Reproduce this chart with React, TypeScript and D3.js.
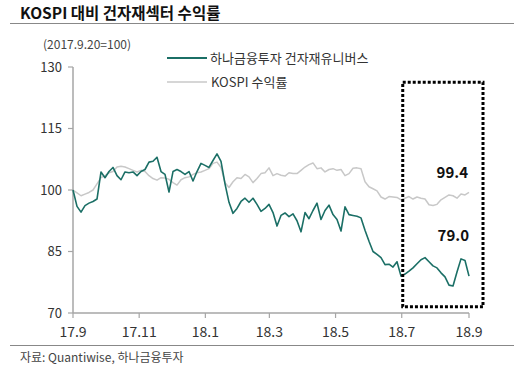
import React from "react";
import * as d3 from "d3";

// 하나금융투자 건자재유니버스, 2017.9.20=100
const universe = [
  100, 96, 94.6, 96.2, 96.8, 97.2, 97.8, 104.4, 103.0, 104.5,
  105.5, 103.5, 102.5, 104.4, 104.2, 104.4, 103.5, 104.5, 105.0, 106.8,
  107.0, 108.0, 104.5, 103.8, 99.5, 104.5, 105.0, 104.5, 103.8, 104.5,
  102.2, 104.5, 106.5, 106.0, 105.5, 107.2, 108.8, 107.0, 101.5, 97.0,
  94.3, 95.5, 97.2, 98.0, 97.0, 98.0, 96.5, 94.8, 95.5, 96.5,
  94.5, 91.2, 93.8, 94.4, 93.5, 94.2, 92.5, 89.8, 94.5, 93.0,
  95.0, 96.8, 92.8, 95.0, 96.3, 94.0, 92.8, 90.0, 95.9, 94.0,
  93.8, 93.6, 93.2, 90.2, 87.5, 85.0, 84.3, 83.5, 81.8, 81.9,
  81.2, 82.5, 79.0, 79.5, 80.2, 81.0, 82.0, 83.0, 83.5, 82.5,
  81.5, 81.0, 79.8, 78.8, 76.8, 76.6, 80.0, 83.2, 82.8, 79.0,
];

// KOSPI 수익률
const kospi = [
  100, 99.3, 98.6, 99.0, 99.4, 100.0, 101.5, 103.0, 103.5, 104.2,
  104.5, 105.6, 105.8, 105.6, 105.2, 104.8, 104.4, 104.8, 104.5, 103.5,
  102.8, 102.4, 103.0, 102.9, 102.6, 101.8, 101.2, 102.5, 103.0, 103.2,
  103.8, 104.2, 104.4, 104.8, 105.2, 106.5, 106.8, 105.5, 101.8, 100.6,
  102.0, 103.0, 102.8, 103.8, 103.2, 101.8, 102.8, 104.0, 104.2, 105.4,
  103.5, 104.0, 103.6, 103.4, 104.2, 104.0, 104.0, 104.8, 105.6, 106.2,
  106.6, 105.2, 105.4, 104.4, 105.0, 105.2, 104.8, 105.0, 103.5, 104.0,
  105.3, 105.4, 105.2, 102.0, 100.8, 100.3, 99.8, 98.3, 97.8, 98.4,
  98.3, 98.2, 97.6, 98.0, 98.4, 97.8, 98.3, 98.0, 97.8, 96.4,
  96.2, 96.5, 97.6, 98.2, 98.8, 98.6, 98.0, 99.0, 98.8, 99.4,
];

const yTicks = [70, 85, 100, 115, 130];
const xTickLabels = ["17.9", "17.11", "18.1", "18.3", "18.5", "18.7", "18.9"];
const xTickDates = [
  new Date(2017, 8, 20), new Date(2017, 10, 20), new Date(2018, 0, 20),
  new Date(2018, 2, 20), new Date(2018, 4, 20), new Date(2018, 6, 20),
  new Date(2018, 8, 20),
];
const startDate = new Date(2017, 8, 20);
const endDate = new Date(2018, 8, 20);
const highlightStart = new Date(2018, 6, 20);
const lastLabels = ["99.4", "79.0"];

const FONT = "'Noto Sans CJK KR', 'Noto Sans', sans-serif";
const GREEN = "#1b6f66";
const GREY = "#c8c8c8";
const AXIS = "#a6a6a6";

export default function App() {
  const width = 522;
  const height = 370;
  const margin = { left: 73, right: 53, top: 67, bottom: 57 };

  const x = d3.scaleTime().domain([startDate, endDate]).range([margin.left, width - margin.right]);
  const y = d3.scaleLinear().domain([70, 130]).range([height - margin.bottom, margin.top]);

  const step = (endDate.getTime() - startDate.getTime()) / (universe.length - 1);
  const dateAt = (i: number) => new Date(startDate.getTime() + i * step);

  const line = d3
    .line<number>()
    .x((_, i) => x(dateAt(i)))
    .y((d) => y(d));

  const x0 = x.range()[0];
  const x1 = x.range()[1];
  const yBase = y(70);

  const boxLeft = x(highlightStart) + 1;
  const boxRight = x1 + 14;

  return (
    <svg
      width={width}
      height={height}
      style={{ position: "absolute", left: 0, top: 0, background: "#fff" }}
      fontFamily={FONT}
    >
      {/* title */}
      <text x={20} y={19} fontSize={15.5} fontWeight="bold" fill="#111">
        KOSPI 대비 건자재섹터 수익률
      </text>
      <line x1={10} x2={514} y1={23.5} y2={23.5} stroke="#888" strokeWidth={1} />
      <text x={43} y={49} fontSize={12} fill="#444">
        (2017.9.20=100)
      </text>

      {/* legend */}
      <line x1={167} x2={207} y1={58} y2={58} stroke={GREEN} strokeWidth={2} />
      <text x={210} y={62.5} fontSize={13} fill="#333">
        하나금융투자 건자재유니버스
      </text>
      <line x1={167} x2={207} y1={82} y2={82} stroke={GREY} strokeWidth={1.5} />
      <text x={211} y={86.5} fontSize={13} fill="#333">
        KOSPI 수익률
      </text>

      {/* axes */}
      <line x1={x0} x2={x0} y1={y(130)} y2={yBase} stroke={AXIS} strokeWidth={1.5} />
      <line x1={x0} x2={x1} y1={yBase} y2={yBase} stroke={AXIS} strokeWidth={1.5} />
      {yTicks.map((t) => (
        <g key={t}>
          <line x1={x0 - 5} x2={x0} y1={y(t)} y2={y(t)} stroke={AXIS} strokeWidth={1.2} />
          <text x={62} y={y(t)} dy="0.35em" textAnchor="end" fontSize={13} fill="#333">
            {t}
          </text>
        </g>
      ))}
      {xTickDates.map((d, i) => (
        <g key={xTickLabels[i]}>
          <line x1={x(d)} x2={x(d)} y1={yBase} y2={yBase + 5} stroke={AXIS} strokeWidth={1.2} />
          <text x={x(d)} y={yBase + 19} dy="0.35em" textAnchor="middle" fontSize={14} fill="#333">
            {xTickLabels[i]}
          </text>
        </g>
      ))}

      {/* series */}
      <path d={line(kospi) ?? ""} fill="none" stroke={GREY} strokeWidth={1.5} strokeLinejoin="round" />
      <path d={line(universe) ?? ""} fill="none" stroke={GREEN} strokeWidth={1.6} strokeLinejoin="round" />

      {/* highlight box */}
      <rect
        x={boxLeft}
        y={y(126.3)}
        width={boxRight - boxLeft}
        height={y(71.5) - y(126.3)}
        fill="none"
        stroke="#000"
        strokeWidth={3}
        strokeDasharray="3 2"
      />
      <text x={x1 - 1} y={y(kospi[kospi.length - 1]) - 20} dy="0.35em" textAnchor="end" fontSize={15} fontWeight="bold" fill="#111">
        {lastLabels[0]}
      </text>
      <text x={x1} y={y(universe[universe.length - 1]) - 40} dy="0.35em" textAnchor="end" fontSize={15} fontWeight="bold" fill="#111">
        {lastLabels[1]}
      </text>

      {/* source */}
      <line x1={10} x2={514} y1={345.5} y2={345.5} stroke="#888" strokeWidth={1} />
      <text x={20} y={362} fontSize={12} fill="#444">
        자료: Quantiwise, 하나금융투자
      </text>
    </svg>
  );
}
